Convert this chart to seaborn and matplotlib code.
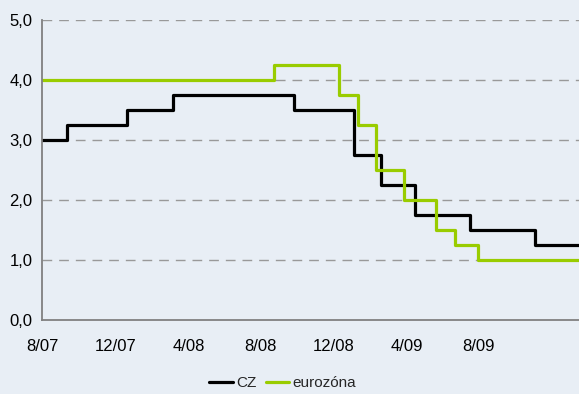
import pandas as pd
import matplotlib
matplotlib.use("Agg")
import matplotlib.pyplot as plt
import seaborn as sns

# policy rate changes (date the new rate applies from)
cz_dates = ["2007-07-25", "2007-08-31", "2007-11-30", "2008-02-08", "2008-08-08",
            "2008-11-07", "2008-12-18", "2009-02-06", "2009-05-01", "2009-08-07"]
cz_rates = [3.00, 3.25, 3.50, 3.75, 3.50, 2.75, 2.25, 1.75, 1.50, 1.25]

ez_dates = ["2007-07-25", "2008-07-09", "2008-10-15", "2008-11-12", "2008-12-10",
            "2009-01-21", "2009-03-11", "2009-04-08", "2009-05-13"]
ez_rates = [4.00, 4.25, 3.75, 3.25, 2.50, 2.00, 1.50, 1.25, 1.00]

end_date = "2009-10-12"

tick_dates = ["2007-07-25", "2007-11-13", "2008-03-02", "2008-06-19",
              "2008-10-07", "2009-01-25", "2009-05-14"]
tick_labels = ["8/07", "12/07", "4/08", "8/08", "12/08", "4/09", "8/09"]

series_names = ["CZ", "eurozóna"]
colors = ["#000000", "#99CC00"]

bg = "#E8EEF5"

frames = []
for name, d, r in [(series_names[0], cz_dates, cz_rates), (series_names[1], ez_dates, ez_rates)]:
    df = pd.DataFrame({"date": pd.to_datetime(d + [end_date]), "rate": r + [r[-1]]})
    df["series"] = name
    frames.append(df)
data = pd.concat(frames, ignore_index=True)

sns.set_style("white")
plt.rcParams["font.family"] = ["Liberation Sans", "DejaVu Sans"]

fig = plt.figure(figsize=(5.79, 3.94), dpi=100, facecolor=bg)
ax = fig.add_axes([0.0725, 0.188, 0.9275, 0.761])
ax.set_facecolor(bg)

sns.lineplot(data=data, x="date", y="rate", hue="series", hue_order=series_names,
             palette=colors, drawstyle="steps-post", linewidth=2.3, ax=ax, legend=False)

ax.set_xlim(pd.Timestamp(tick_dates[0]), pd.Timestamp(end_date))
ax.set_ylim(0, 5)
ax.set_yticks([0, 1, 2, 3, 4, 5])
ax.set_yticklabels(["0,0", "1,0", "2,0", "3,0", "4,0", "5,0"])
ax.set_xticks(pd.to_datetime(tick_dates))
ax.set_xticklabels(tick_labels)
ax.set_xlabel("")
ax.set_ylabel("")

for y in [1, 2, 3, 4, 5]:
    ax.axhline(y, color="#999999", linewidth=1, linestyle=(0, (7, 5)), zorder=0)

for s in ["top", "right"]:
    ax.spines[s].set_visible(False)
for s in ["left", "bottom"]:
    ax.spines[s].set_color("#808080")
    ax.spines[s].set_linewidth(1.3)

ax.tick_params(axis="both", direction="out", length=4, width=1, color="#808080",
               labelsize=12, labelcolor="#000000")
ax.tick_params(axis="x", pad=10)
ax.tick_params(axis="y", pad=3)

handles = [plt.Line2D([], [], color=c, linewidth=2.3) for c in colors]
fig.legend(handles, series_names, loc="center", bbox_to_anchor=(0.488, 0.028),
           ncol=2, frameon=False, fontsize=11, handlelength=1.55, handletextpad=0.2,
           columnspacing=0.6)

fig.savefig("out.png", dpi=100, facecolor=bg)
